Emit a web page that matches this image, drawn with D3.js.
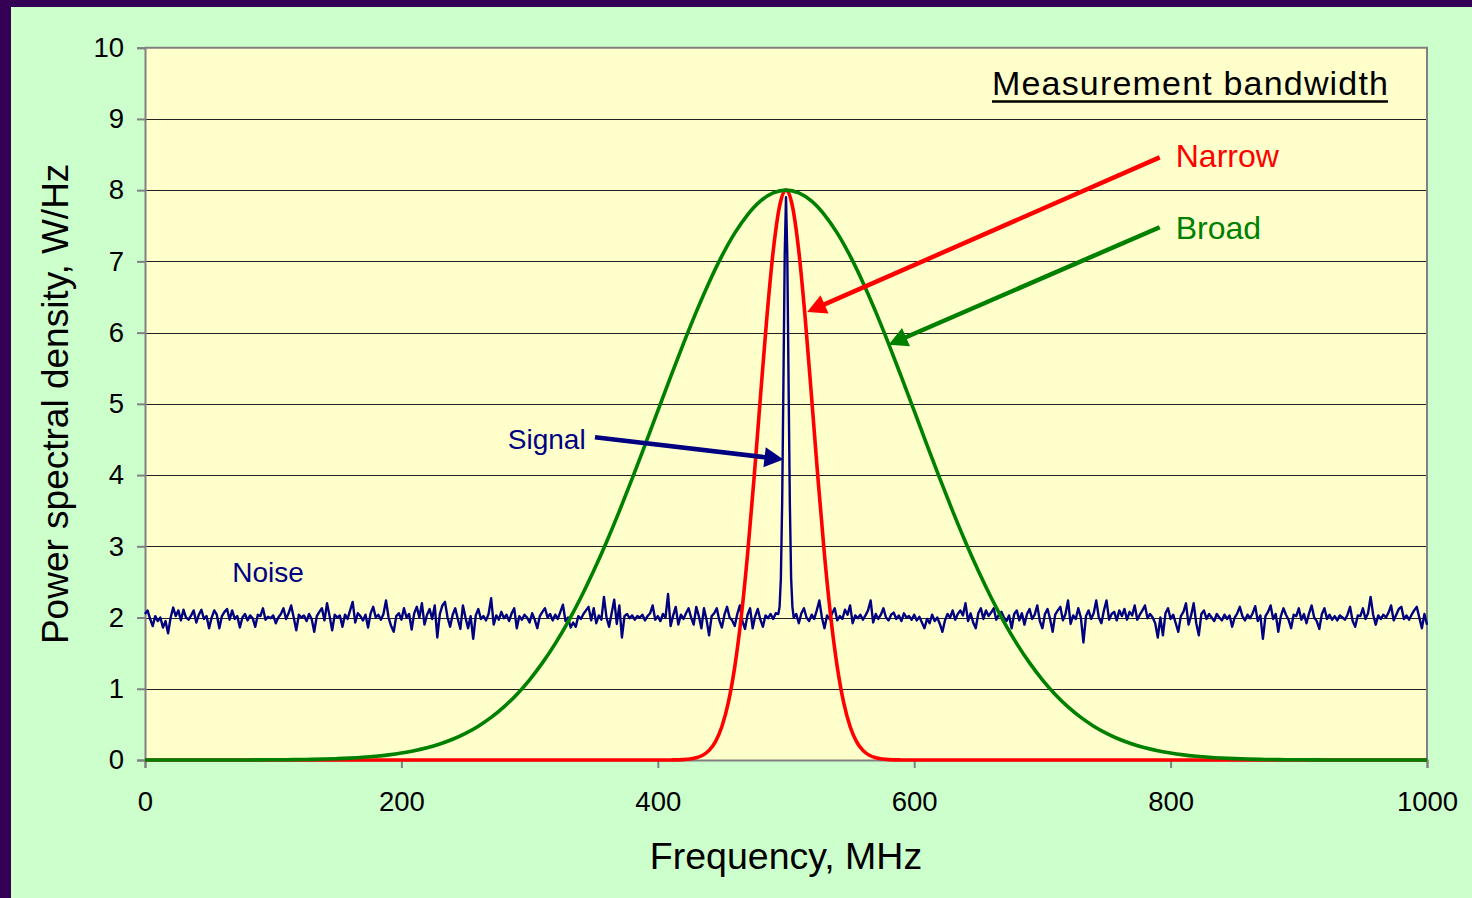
<!DOCTYPE html>
<html>
<head>
<meta charset="utf-8">
<script src="https://cdn.jsdelivr.net/npm/d3@7"></script>
<style>
  html, body { margin: 0; padding: 0; background: #330055; }
  svg { display: block; }
  text { font-family: "Liberation Sans", Arial, sans-serif; }
</style>
</head>
<body>
<svg id="chart" width="1472" height="898"></svg>
<script>
// ---- Data (frequency in MHz, power spectral density in W/Hz) ----

// Measured noise floor, one sample every 2 MHz from 0 to 1000 MHz
const noiseStartMHz = 0;
const noiseStepMHz = 2;
const noisePSD = [
  // 0–48
  2.05,2.10,1.98,1.88,2.02,1.95,2.00,1.86,1.95,1.78,2.00,2.14,2.02,2.10,1.96,2.11,2.00,1.97,2.03,2.10,1.93,2.04,2.11,1.98,2.02,
  // 50–98
  1.85,2.00,2.10,2.04,1.85,2.02,2.08,2.12,1.97,2.10,1.98,2.02,1.86,2.00,2.05,1.96,2.03,1.99,1.87,2.04,2.02,2.13,1.97,2.01,1.99,
  // 100–148
  2.03,1.92,2.00,2.05,2.13,1.98,2.06,2.17,2.00,1.82,2.04,2.00,2.03,1.95,2.05,1.98,1.80,2.02,2.08,2.13,1.96,2.20,2.02,1.82,2.04,
  // 150–198
  2.00,2.03,1.87,2.04,1.98,2.10,2.22,1.93,2.06,2.02,1.96,2.04,1.86,2.06,2.15,2.00,2.04,1.97,2.05,2.24,2.00,1.88,1.80,2.02,2.06,
  // 200–248
  1.97,2.13,2.00,2.05,1.83,2.06,2.15,2.00,2.20,1.90,2.04,2.12,1.98,2.17,1.72,2.05,2.17,2.22,2.00,1.87,2.04,2.13,1.98,1.84,2.17,
  // 250–298
  2.00,1.85,2.02,1.70,2.03,2.12,1.98,2.02,1.96,2.05,2.27,1.90,2.03,1.97,2.08,1.99,2.04,1.95,2.06,2.13,1.85,2.02,1.97,2.04,2.00,
  // 300–348
  1.93,2.06,1.97,1.85,2.02,2.08,2.13,2.00,2.05,1.96,2.04,1.98,2.08,2.18,1.95,2.00,1.86,1.93,1.87,2.02,1.98,2.05,2.10,2.15,1.96,
  // 350–398
  2.13,1.92,2.03,1.97,2.29,2.00,1.87,2.06,2.25,1.91,2.17,1.72,2.02,2.05,1.99,2.03,1.97,2.02,2.00,2.04,1.96,2.02,2.06,2.17,1.97,
  // 400–448
  2.02,1.95,2.05,2.00,2.33,1.88,2.03,2.15,1.90,2.04,1.98,2.06,2.13,2.00,1.90,2.15,2.02,1.85,2.13,1.97,1.75,2.02,2.06,2.13,1.96,
  // 450–498
  1.86,2.04,2.15,2.00,1.96,1.88,2.05,2.17,1.95,1.84,2.04,2.13,1.85,2.02,2.12,1.97,1.87,2.03,1.99,2.05,1.98,2.06,2.10,2.15,2.20,
  // 500–548
  2.10,2.05,2.00,1.95,2.05,1.92,2.06,2.13,2.00,1.95,2.04,1.98,2.10,2.24,2.00,1.85,2.03,1.98,2.06,2.13,1.96,2.02,1.98,2.11,2.04,
  // 550–598
  2.17,1.92,2.03,1.99,2.04,1.97,2.03,2.10,2.24,1.93,2.05,1.98,2.04,2.13,2.00,1.96,2.04,2.07,1.98,2.03,1.95,2.06,2.00,2.02,1.97,
  // 600–648
  2.04,1.96,2.01,1.93,1.85,1.98,1.92,2.04,1.95,2.00,1.91,1.80,1.96,2.05,2.00,2.10,1.97,2.05,2.10,2.03,2.20,1.95,2.06,1.93,1.85,
  // 650–698
  2.06,2.13,1.98,2.10,2.02,2.07,2.13,1.97,2.04,2.08,2.00,1.95,2.03,1.85,2.05,2.10,1.96,2.06,1.90,2.05,2.12,1.98,2.04,2.17,1.95,
  // 700–748
  1.85,2.05,2.12,1.98,1.80,2.04,2.10,2.15,1.96,2.05,2.24,1.91,2.03,1.98,2.13,2.00,1.65,2.02,2.10,1.98,2.06,2.24,2.00,1.92,2.10,
  // 750–798
  2.24,1.97,2.05,2.08,1.96,2.10,2.02,2.12,1.97,2.08,2.03,2.17,1.97,2.04,2.10,2.17,1.99,2.05,2.00,1.92,1.72,2.00,1.75,2.06,2.13,
  // 800–848
  1.98,2.04,1.92,1.80,2.02,2.08,2.20,1.90,2.03,2.20,1.92,1.75,2.05,2.10,1.98,2.05,2.00,1.95,2.05,2.00,1.96,2.04,1.98,2.03,1.87,
  // 850–898
  2.00,2.06,2.15,2.02,1.96,2.04,1.99,2.06,2.16,1.95,2.03,1.70,2.02,2.08,2.17,1.98,2.05,1.80,2.02,2.13,2.04,1.97,1.85,2.04,2.02,
  // 900–948
  2.13,1.97,2.05,1.92,2.06,2.17,2.00,1.95,1.84,2.05,2.13,1.98,2.04,1.97,2.02,1.96,2.03,2.00,1.97,2.04,2.15,1.95,1.87,2.03,2.02,
  // 950–998
  2.13,1.98,2.06,2.29,2.04,1.90,2.03,1.98,2.04,2.00,2.07,2.17,1.96,2.04,2.12,2.15,1.98,2.03,1.97,2.04,2.10,2.15,2.00,1.85,2.05,
  // 1000
  1.90
];

// Narrow carrier sitting on the noise floor, 1 MHz samples
const signalMHz = [494, 495, 496, 497, 498, 499, 500, 501, 502, 503, 504, 505, 506];
const signalPSD = [2.05, 2.15, 2.55, 3.60, 5.30, 7.10, 7.90, 7.10, 5.30, 3.60, 2.55, 2.15, 2.00];

// Broad measurement filter response, 10 MHz samples from 0 to 1000 MHz
const broadMHzStep = 10;
const broadPSD = [
  0,0,0,0,0,0,0,0.001,0.001,0.002,0.003,0.004,0.006,0.009,0.013,0.019,0.027,0.038,0.053,0.072,
  0.097,0.130,0.171,0.225,0.291,0.374,0.475,0.598,0.746,0.921,1.126,1.363,1.634,1.940,2.281,2.656,3.061,3.494,3.950,4.421,
  4.901,5.378,5.846,6.292,6.705,7.077,7.397,7.654,7.845,7.961,
  8.000,
  7.961,7.845,7.654,7.397,7.077,6.705,6.292,5.846,5.378,4.901,
  4.421,3.950,3.494,3.061,2.656,2.281,1.940,1.634,1.363,1.126,0.921,0.746,0.598,0.475,0.374,0.291,0.225,0.171,0.130,0.097,
  0.072,0.053,0.038,0.027,0.019,0.013,0.009,0.006,0.004,0.003,0.002,0.001,0.001,0,0,0,0,0,0,0
];

// Narrow measurement filter response
const narrowMHz = [0, 400, 405, 410, 415, 420, 425, 430, 435, 440, 445, 450, 455, 460, 465, 470, 475, 480, 485, 490, 495,
                   500, 505, 510, 515, 520, 525, 530, 535, 540, 545, 550, 555, 560, 565, 570, 575, 580, 585, 590, 595, 600, 1000];
const narrowPSD = [0, 0, 0, 0.001, 0.002, 0.005, 0.014, 0.031, 0.066, 0.135, 0.259, 0.470, 0.805, 1.304, 1.995, 2.883, 3.938, 5.083, 6.198, 7.142, 7.777,
                   8.000, 7.777, 7.142, 6.198, 5.083, 3.938, 2.883, 1.995, 1.304, 0.805, 0.470, 0.259, 0.135, 0.066, 0.031, 0.014, 0.005, 0.002, 0.001, 0, 0, 0];

const xTicks = [0, 200, 400, 600, 800, 1000];
const yTicks = [0, 1, 2, 3, 4, 5, 6, 7, 8, 9, 10];

// Annotations, in data units (MHz, W/Hz)
const annotations = [
  { text: "Narrow", color: "#FF0000", size: 32, label: [804, 8.32], from: [791.5, 8.46], to: [516.5, 6.29] },
  { text: "Broad",  color: "#008000", size: 32, label: [804, 7.32], from: [791.5, 7.48], to: [580.0, 5.83] },
  { text: "Signal", color: "#000080", size: 28, label: [283, 4.36], from: [351.0, 4.53], to: [498.0, 4.22] }
];
const noiseLabel = { text: "Noise", color: "#000080", at: [68, 2.5] };
const headline = "Measurement bandwidth";

// ---- Layout ----
const W = 1472, H = 898;
const plot = { left: 145, right: 1427, top: 47.7, bottom: 760 };

const svg = d3.select("#chart");

// Frame: dark edge plus pale green chart area
svg.append("rect").attr("x", 0).attr("y", 0).attr("width", W).attr("height", H).attr("fill", "#330055");
svg.append("rect").attr("x", 11).attr("y", 7).attr("width", W - 11).attr("height", H - 7).attr("fill", "#CCFFCC");

const x = d3.scaleLinear().domain([0, 1000]).range([plot.left, plot.right]);
const y = d3.scaleLinear().domain([0, 10]).range([plot.bottom, plot.top]);

// Plot area
svg.append("rect")
  .attr("x", plot.left).attr("y", plot.top)
  .attr("width", plot.right - plot.left).attr("height", plot.bottom - plot.top)
  .attr("fill", "#FFFFCC");

// Horizontal gridlines
svg.append("g")
  .selectAll("line")
  .data(yTicks.filter(v => v > 0 && v < 10))
  .join("line")
  .attr("x1", plot.left).attr("x2", plot.right)
  .attr("y1", d => Math.round(y(d)) + 0.5).attr("y2", d => Math.round(y(d)) + 0.5)
  .attr("stroke", "#222").attr("stroke-width", 1);

// Plot border (top and right)
svg.append("path")
  .attr("d", `M${plot.left},${plot.top}H${plot.right}V${plot.bottom}`)
  .attr("fill", "none").attr("stroke", "#808080").attr("stroke-width", 2);

// Axes
const yAxis = svg.append("g")
  .attr("transform", `translate(${plot.left},0)`)
  .call(d3.axisLeft(y).tickValues(yTicks).tickFormat(d3.format("d")).tickSize(8).tickPadding(13));
const xAxis = svg.append("g")
  .attr("transform", `translate(0,${plot.bottom})`)
  .call(d3.axisBottom(x).tickValues(xTicks).tickFormat(d3.format("d")).tickSize(8).tickPadding(23));

[yAxis, xAxis].forEach(g => {
  g.select(".domain").attr("stroke", "#808080").attr("stroke-width", 2);
  g.selectAll(".tick line").attr("stroke", "#808080").attr("stroke-width", 2);
  g.selectAll(".tick text")
    .attr("fill", "#000")
    .style("font-family", '"Liberation Sans", Arial, sans-serif')
    .style("font-size", "27.5px");
});

// ---- Series ----
const noisePoints = noisePSD
  .map((v, i) => [noiseStartMHz + i * noiseStepMHz, v])
  .filter(d => d[0] < signalMHz[0] || d[0] > signalMHz[signalMHz.length - 1]);
const measured = noisePoints
  .concat(signalMHz.map((f, i) => [f, signalPSD[i]]))
  .sort((a, b) => a[0] - b[0]);

const lineLinear = d3.line().x(d => x(d[0])).y(d => y(d[1]));
const lineSmooth = d3.line().x(d => x(d[0])).y(d => y(d[1])).curve(d3.curveMonotoneX);

svg.append("path")
  .datum(measured)
  .attr("d", lineLinear)
  .attr("fill", "none").attr("stroke", "#000080").attr("stroke-width", 2.4)
  .attr("stroke-linejoin", "round");

svg.append("path")
  .datum(narrowMHz.map((f, i) => [f, narrowPSD[i]]))
  .attr("d", lineSmooth)
  .attr("fill", "none").attr("stroke", "#FF0000").attr("stroke-width", 3.6);

svg.append("path")
  .datum(broadPSD.map((v, i) => [i * broadMHzStep, v]))
  .attr("d", lineSmooth)
  .attr("fill", "none").attr("stroke", "#008000").attr("stroke-width", 3.6);

// ---- Annotations ----
function arrow(from, to, color) {
  const x1 = x(from[0]), y1 = y(from[1]), x2 = x(to[0]), y2 = y(to[1]);
  const dx = x2 - x1, dy = y2 - y1, len = Math.hypot(dx, dy);
  const ux = dx / len, uy = dy / len;
  const headLen = 19, headHalf = 10;
  const bx = x2 - ux * headLen, by = y2 - uy * headLen;
  svg.append("line")
    .attr("x1", x1).attr("y1", y1).attr("x2", bx + ux * 2).attr("y2", by + uy * 2)
    .attr("stroke", color).attr("stroke-width", 4.5);
  svg.append("polygon")
    .attr("points", [
      [x2, y2],
      [bx - uy * headHalf, by + ux * headHalf],
      [bx + uy * headHalf, by - ux * headHalf]
    ].map(p => p.join(",")).join(" "))
    .attr("fill", color);
}

annotations.forEach(a => {
  arrow(a.from, a.to, a.color);
  svg.append("text")
    .attr("x", x(a.label[0])).attr("y", y(a.label[1]))
    .attr("fill", a.color)
    .style("font-size", a.size + "px")
    .text(a.text);
});

svg.append("text")
  .attr("x", x(noiseLabel.at[0])).attr("y", y(noiseLabel.at[1]))
  .attr("fill", noiseLabel.color)
  .style("font-size", "28px")
  .text(noiseLabel.text);

// Heading with underline
svg.append("text")
  .attr("x", 992).attr("y", 95)
  .attr("fill", "#000")
  .attr("textLength", 396).attr("lengthAdjust", "spacing")
  .style("font-size", "34px")
  .text(headline);
svg.append("line")
  .attr("x1", 992).attr("x2", 1388).attr("y1", 101.5).attr("y2", 101.5)
  .attr("stroke", "#000").attr("stroke-width", 2.5);

// Axis titles
svg.append("text")
  .attr("x", (plot.left + plot.right) / 2).attr("y", 869)
  .attr("text-anchor", "middle")
  .attr("fill", "#000")
  .style("font-size", "37.5px")
  .text("Frequency, MHz");

svg.append("text")
  .attr("transform", `translate(68,${(plot.top + plot.bottom) / 2}) rotate(-90)`)
  .attr("text-anchor", "middle")
  .attr("fill", "#000")
  .style("font-size", "37px")
  .text("Power spectral density, W/Hz");
</script>
</body>
</html>
